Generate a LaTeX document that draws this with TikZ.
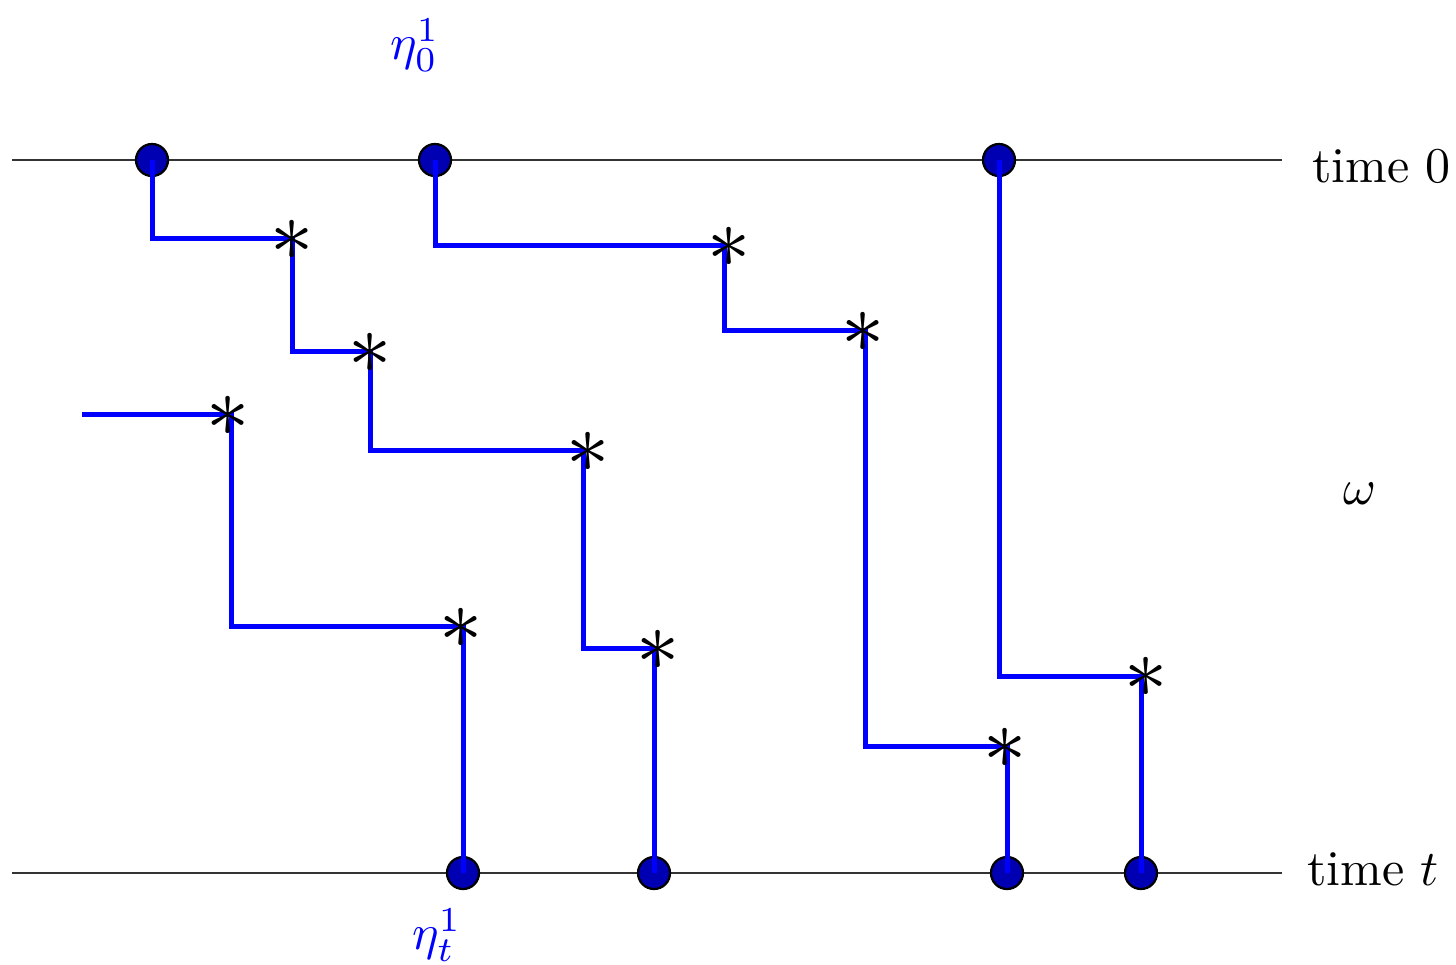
\documentclass[tikz,border=0pt]{standalone}
\begin{document}
\begin{tikzpicture}[x=0.2pt,y=-0.2pt,
  timeline/.style={line width=0.35pt,black!80},
  walk/.style={line width=1pt,blue},
  particle/.style={circle,draw=black,line width=0.45pt,fill=blue!70!black,minimum size=6.4pt,inner sep=0pt},
  clock/.style={inner sep=0pt,font=\LARGE},
  lab/.style={inner sep=0pt}]
\useasboundingbox (0,0) rectangle (1456,964);
% time lines
\coordinate (l0) at (12,160);
\coordinate (r0) at (1282,160);
\coordinate (lt) at (12,873);
\coordinate (rt) at (1282,873);
\draw[timeline] (l0) -- (r0);
\draw[timeline] (lt) -- (rt);
\node[lab,anchor=base west] (time0) at (1311,182) {time $0$};
\node[lab,anchor=base west] (timet) at (1306,885) {time $t$};
\node[lab] (omega) at (1360,494) {$\omega$};
% particles
\node[particle] (a1) at (152,160) {};
\node[particle] (a2) at (435,160) {};
\node[particle] (a3) at (999,160) {};
\node[particle] (b1) at (463,873) {};
\node[particle] (b2) at (654,873) {};
\node[particle] (b3) at (1007,873) {};
\node[particle] (b4) at (1141,873) {};
\node[lab,text=blue] (eta0) at (415,45) {$\eta_0^1$};
\node[lab,text=blue] (etat) at (437,935) {$\eta_t^1$};
% corners
\coordinate (c1) at (152,238);
\coordinate (c2) at (292,238);
\coordinate (c3) at (292,351);
\coordinate (c4) at (370,351);
\coordinate (c5) at (370,450);
\coordinate (c6) at (583,450);
\coordinate (c7) at (583,648);
\coordinate (c8) at (654,648);
\coordinate (d1) at (435,245);
\coordinate (d2) at (724,245);
\coordinate (d3) at (724,330);
\coordinate (d4) at (865,330);
\coordinate (d5) at (865,746);
\coordinate (d6) at (1007,746);
\coordinate (e1) at (999,676);
\coordinate (e2) at (1141,676);
\coordinate (f0) at (82,414);
\coordinate (f1) at (231,414);
\coordinate (f2) at (231,626);
\coordinate (f3) at (463,626);
% walks
\draw[walk] (a1.center) -- (c1) -- (c2) -- (c3) -- (c4) -- (c5) -- (c6) -- (c7) -- (c8) -- (b2.center);
\draw[walk] (a2.center) -- (d1) -- (d2) -- (d3) -- (d4) -- (d5) -- (d6) -- (b3.center);
\draw[walk] (a3.center) -- (e1) -- (e2) -- (b4.center);
\draw[walk] (f0) -- (f1) -- (f2) -- (f3) -- (b1.center);
% clocks
\node[clock] (s1) at (292,240) {$\ast$};
\node[clock] (s2) at (370,353) {$\ast$};
\node[clock] (s3) at (588,452) {$\ast$};
\node[clock] (s4) at (658,650) {$\ast$};
\node[clock] (s5) at (729,247) {$\ast$};
\node[clock] (s6) at (863,332) {$\ast$};
\node[clock] (s7) at (1005,748) {$\ast$};
\node[clock] (s8) at (1146,677) {$\ast$};
\node[clock] (s9) at (228,416) {$\ast$};
\node[clock] (s10) at (461,628) {$\ast$};
\end{tikzpicture}
\end{document}
